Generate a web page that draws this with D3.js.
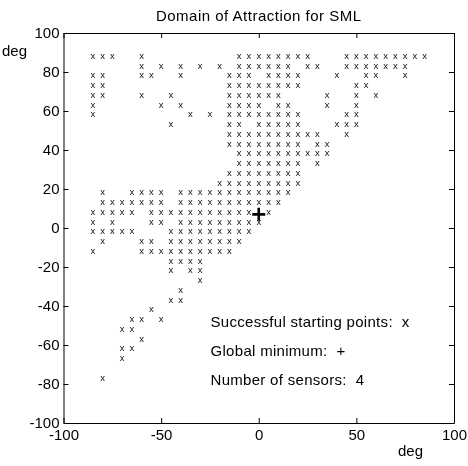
<!DOCTYPE html>
<html>
<head>
<meta charset="utf-8">
<script src="https://cdn.jsdelivr.net/npm/d3@7"></script>
<style>
  html, body { margin: 0; padding: 0; background: #fff; }
  svg { display: block; font-family: "Liberation Sans", Arial, Helvetica, sans-serif; filter: grayscale(100%); }
  svg text { white-space: pre; }
</style>
</head>
<body>
<script>
// Starting orientations (deg) that converged to the global minimum.
// Each level of the vertical angle lists the horizontal angles that succeeded.
const yLevels = [88, 83, 78, 73, 68, 63, 58, 53, 48, 43, 38, 33, 28, 23, 18, 13, 8, 3,
                 -2, -7, -12, -17, -22, -27, -32, -37, -42, -47, -52, -57, -62, -67, -77];
const xByLevel = [
  [-85, -80, -75, -60, -10, -5, 0, 5, 10, 15, 20, 25, 45, 50, 55, 60, 65, 70, 75, 80, 85],
  [-60, -50, -40, -30, -20, -10, -5, 0, 5, 10, 15, 25, 30, 45, 50, 55, 60, 65, 70, 75],
  [-85, -80, -60, -55, -40, -15, -10, -5, 5, 10, 15, 20, 40, 55, 60, 75],
  [-85, -80, -15, -10, -5, 0, 5, 10, 15, 20, 50, 55],
  [-85, -80, -60, -45, -15, -10, -5, 0, 5, 10, 35, 50, 60],
  [-85, -50, -40, -15, -10, -5, 0, 10, 15, 35, 50],
  [-85, -35, -25, -15, -10, -5, 0, 5, 10, 15, 20, 45, 50],
  [-45, -15, -10, 0, 5, 10, 15, 20, 40, 45, 50],
  [-15, -10, -5, 0, 5, 10, 15, 20, 25, 30, 45],
  [-15, -10, -5, 0, 5, 10, 15, 20, 30, 35],
  [-10, -5, 0, 5, 10, 15, 20, 25, 30, 35],
  [-10, -5, 0, 5, 10, 15, 20, 30],
  [-15, -10, -5, 0, 5, 10, 15, 20],
  [-20, -15, -10, -5, 0, 5, 10, 15, 20],
  [-80, -65, -60, -55, -50, -40, -35, -30, -25, -20, -15, -10, -5, 0, 5, 10, 15],
  [-80, -75, -70, -65, -60, -55, -50, -40, -35, -30, -25, -20, -15, -10, -5, 0, 5, 10],
  [-85, -80, -75, -70, -65, -55, -50, -45, -40, -35, -30, -25, -20, -15, -10, -5, 5],
  [-85, -75, -55, -50, -40, -35, -30, -25, -20, -15, -10, -5, 0],
  [-85, -80, -75, -70, -65, -45, -40, -35, -30, -25, -20, -15, -10, -5],
  [-80, -60, -55, -45, -40, -35, -30, -25, -20, -15, -10],
  [-85, -60, -55, -50, -45, -40, -35, -30, -25, -20, -15],
  [-45, -40, -35, -30],
  [-45, -35, -30],
  [-30],
  [-40],
  [-45, -40],
  [-55],
  [-65, -60, -50],
  [-70, -65],
  [-60],
  [-70, -65],
  [-70],
  [-80]
];
const globalMin = [0, 7];
const xTicks = [-100, -50, 0, 50, 100];
const yTicks = [-100, -80, -60, -40, -20, 0, 20, 40, 60, 80, 100];
const titleText = "Domain of Attraction for SML";
const legendLines = ["Successful starting points:  x", "Global minimum:  +", "Number of sensors:  4"];

const W = 468, H = 466;
const plot = { left: 63.5, right: 454, top: 33, bottom: 423 };
const font = 15;
const plain = d => String(d); // hyphen-minus, as in the printed labels

const svg = d3.select("body").append("svg").attr("width", W).attr("height", H);
svg.append("rect").attr("width", W).attr("height", H).attr("fill", "#fff");

const x = d3.scaleLinear().domain([-100, 100]).range([plot.left, plot.right]);
const y = d3.scaleLinear().domain([-100, 100]).range([plot.bottom, plot.top]);

function styleAxis(g) {
  g.attr("font-size", font).attr("font-family", null);
  g.select(".domain").attr("stroke", "#000").attr("stroke-width", 1);
  g.selectAll(".tick line").attr("stroke", "#000");
  g.selectAll(".tick text").attr("fill", "#000");
}

// Box axes with inward ticks; labels on bottom and left only
svg.append("g").attr("transform", `translate(0,${plot.bottom})`)
  .call(d3.axisBottom(x).tickValues(xTicks).tickFormat(plain)
    .tickSizeInner(-5).tickSizeOuter(0).tickPadding(6.5))
  .call(styleAxis);
svg.append("g").attr("transform", `translate(0,${plot.top})`)
  .call(d3.axisTop(x).tickValues(xTicks).tickSizeInner(-5).tickSizeOuter(0).tickFormat(""))
  .call(styleAxis);
svg.append("g").attr("transform", `translate(${plot.left},0)`)
  .call(d3.axisLeft(y).tickValues(yTicks).tickFormat(plain)
    .tickSizeInner(-5).tickSizeOuter(0).tickPadding(4))
  .call(styleAxis);
svg.append("g").attr("transform", `translate(${plot.right},0)`)
  .call(d3.axisRight(y).tickValues(yTicks).tickSizeInner(-5).tickSizeOuter(0).tickFormat(""))
  .call(styleAxis);

// Title and axis unit labels
svg.append("text").attr("x", (plot.left + plot.right) / 2).attr("y", 21)
  .attr("text-anchor", "middle").attr("font-size", font)
  .attr("letter-spacing", 0.5).text(titleText);
svg.append("text").attr("x", 2).attr("y", 56).attr("font-size", font).text("deg");
svg.append("text").attr("x", 398).attr("y", 456).attr("font-size", font).text("deg");

// Successful starting points drawn as "x" characters
const points = yLevels.flatMap((yv, i) => xByLevel[i].map(xv => ({ x: xv, y: yv })));
svg.append("g").selectAll("text").data(points).join("text")
  .attr("x", d => x(d.x))
  .attr("y", d => y(d.y))
  .attr("dy", "0.27em")
  .attr("text-anchor", "middle")
  .attr("font-size", 9.5)
  .attr("fill", "#111")
  .text("x");

// Global minimum marker
const gx = x(globalMin[0]), gy = y(globalMin[1]);
svg.append("path")
  .attr("d", `M${gx - 6.5},${gy}H${gx + 6.5}M${gx},${gy - 6.5}V${gy + 6.5}`)
  .attr("stroke", "#000").attr("stroke-width", 2.6).attr("fill", "none");

// Legend text inside the plot
svg.append("g").selectAll("text").data(legendLines).join("text")
  .attr("x", 210.5)
  .attr("y", (d, i) => 327 + i * 29)
  .attr("font-size", font)
  .attr("letter-spacing", 0.3)
  .text(d => d);
</script>
</body>
</html>
